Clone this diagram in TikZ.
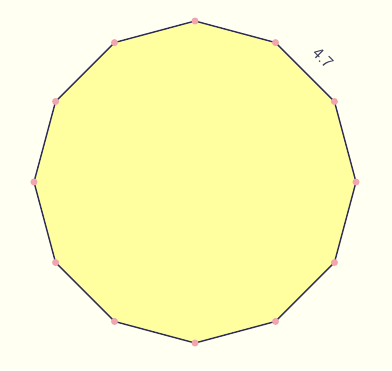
\documentclass[tikz,border=0pt]{standalone}
\usepackage{tikz}
\usetikzlibrary{calc}
\definecolor{paper}{RGB}{255,255,242}
\definecolor{shade}{RGB}{255,255,160}
\definecolor{edgeblue}{RGB}{45,45,85}
\definecolor{dotpink}{RGB}{240,165,175}
\tikzset{
  side/.style       = {line width=1pt, draw=edgeblue, line join=round},
  vertex/.style     = {circle, fill=dotpink, inner sep=0pt, minimum size=5pt},
  lengthlabel/.style= {font=\sffamily\large, text=edgeblue!85!gray},
}

\begin{document}
\begin{tikzpicture}[x=0.025cm,y=-0.025cm]
  \fill[paper] (0,0) rectangle (392,370);
  \useasboundingbox (0,0) rectangle (392,370);
  % twelve corners round the centre
  \foreach \i in {0,...,11}
    \coordinate (v\i) at ({195+161*cos(90-30*\i)},{182-161*sin(90-30*\i)});
  \draw[side, fill=shade] (v0) \foreach \i in {1,...,11}{ -- (v\i) } -- cycle;
  \foreach \i in {0,...,11}
    \node[vertex] (p\i) at (v\i) {};
  \node[lengthlabel, rotate=-45] (len) at (323,58) {4.7};
\end{tikzpicture}
\end{document}
